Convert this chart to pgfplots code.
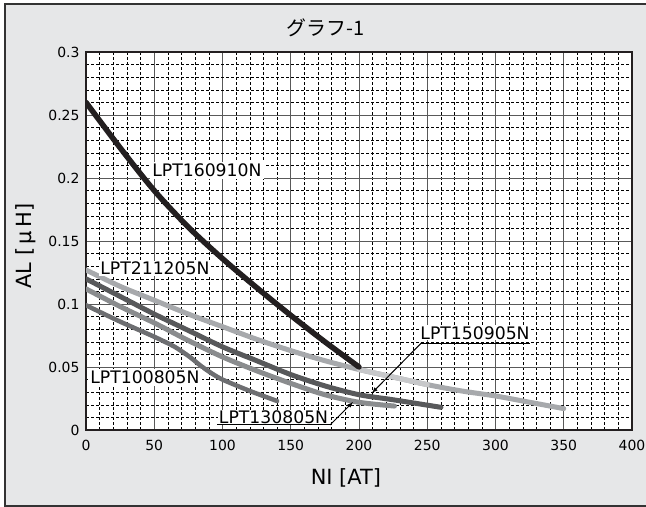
\documentclass[border=0pt]{standalone}
\usepackage{pgfplots}
\pgfplotsset{compat=1.18}
\usepackage{fontspec}
\setmainfont{DejaVu Sans}
\newfontfamily\cjk{Noto Sans CJK JP}
\definecolor{bg}{HTML}{E6E7E8}
\definecolor{cblack}{HTML}{231F20}
\definecolor{clight}{HTML}{A7A9AC}
\definecolor{clighter}{HTML}{C7C8CA}
\definecolor{cdark}{HTML}{58595B}
\definecolor{cmed}{HTML}{8A8C8E}
\definecolor{cgrey}{HTML}{6D6E71}
\begin{document}
\begin{tikzpicture}
\useasboundingbox (0,0) rectangle (646bp,507bp);
\filldraw[fill=bg, draw=black!80, line width=1.2bp] (5bp,1bp) rectangle (660bp,503bp);
\node[font=\cjk\fontsize{20}{22}\selectfont] at (325.5bp,479bp) {グラフ-1};
\begin{axis}[
  at={(86bp,77bp)}, anchor=south west,
  scale only axis, width=546bp, height=378bp,
  xmin=0, xmax=400, ymin=0, ymax=0.3,
  xtick={0,50,...,400},
  ytick={0,0.05,0.1,0.15,0.2,0.25,0.3},
  yticklabels={0,0.05,0.1,0.15,0.2,0.25,0.3},
  minor x tick num=4, minor y tick num=4,
  major tick length=0pt, minor tick length=0pt,
  grid=both,
  major grid style={draw=black!65, line width=0.9bp},
  minor grid style={draw=black, line width=0.5bp, dash pattern=on 2.5bp off 2.5bp},
  axis line style={line width=2.8bp, draw=cblack},
  axis background/.style={fill=white},
  /pgf/number format/assume math mode=true,
  ticklabel style={font=\fontsize{14}{16}\selectfont},
  xticklabel style={yshift=-7bp},
  yticklabel style={xshift=-3bp},
  xlabel={NI [AT]}, ylabel={AL [\,μ\,H]},
  xlabel style={font=\fontsize{21}{23}\selectfont, at={(axis description cs:0.476,-0.127)}, anchor=center},
  ylabel style={font=\fontsize{21}{23}\selectfont, at={(axis description cs:-0.11,0.487)}, anchor=center},
  clip=true,
  every axis plot/.append style={line cap=round, line join=round},
]
% LPT100805N
\addplot[cgrey, line width=4.5bp, smooth, tension=0.4] coordinates {
(0,0.099) (25,0.086) (50,0.074) (65,0.066) (76,0.058) (84,0.051) (92,0.045) (100,0.040) (120,0.031) (140,0.023)};
% LPT130805N
\addplot[cmed, line width=5bp, smooth] coordinates {
(0,0.112) (25,0.098) (50,0.085) (75,0.071) (100,0.058) (125,0.047) (150,0.037) (175,0.028) (200,0.022) (226,0.019)};
% LPT150905N
\addplot[cdark, line width=5bp, smooth] coordinates {
(0,0.120) (25,0.106) (50,0.092) (75,0.079) (100,0.066) (125,0.055) (150,0.044) (175,0.035) (200,0.028) (225,0.024) (260,0.018)};
% LPT211205N
\addplot[clight, line width=5bp, smooth] coordinates {
(0,0.127) (25,0.114) (50,0.103) (75,0.092) (100,0.082) (125,0.072) (150,0.063) (175,0.055) (200,0.048) (225,0.042) (250,0.036) (275,0.031) (300,0.027) (325,0.022) (350,0.017)};
\addplot[clighter, line width=5bp, smooth] coordinates {
(200,0.048) (225,0.042) (250,0.036)};
% LPT160910N
\addplot[cblack, line width=5.5bp, smooth] coordinates {
(0,0.26) (25,0.224) (50,0.19) (75,0.161) (100,0.136) (125,0.113) (150,0.091) (175,0.07) (200,0.05)};
% labels
\node[fill=white, inner sep=2bp, font=\fontsize{17.3}{19}\selectfont] at (axis cs:88.6,0.206) {LPT160910N};
\node[fill=white, inner sep=1bp, font=\fontsize{17.3}{19}\selectfont] at (axis cs:50.5,0.128) {LPT211205N};
\node[fill=white, inner sep=2bp, font=\fontsize{17.3}{19}\selectfont] at (axis cs:43.2,0.042) {LPT100805N};
\node[fill=white, inner sep=1bp, font=\fontsize{17.3}{19}\selectfont] at (axis cs:137.4,0.0103) {LPT130805N};
\node[fill=white, inner sep=1bp, font=\fontsize{17.3}{19}\selectfont] at (axis cs:285,0.077) {LPT150905N};
\draw[line width=1bp] (axis cs:96,0.004) -- (axis cs:178.8,0.004);
\draw[line width=1bp, -latex] (axis cs:178.8,0.004) -- (axis cs:195.6,0.0222);
\draw[line width=1bp] (axis cs:325,0.069) -- (axis cs:245.6,0.069);
\draw[line width=1bp, -latex] (axis cs:245.6,0.069) -- (axis cs:209.5,0.0294);
\end{axis}
\end{tikzpicture}
\end{document}
